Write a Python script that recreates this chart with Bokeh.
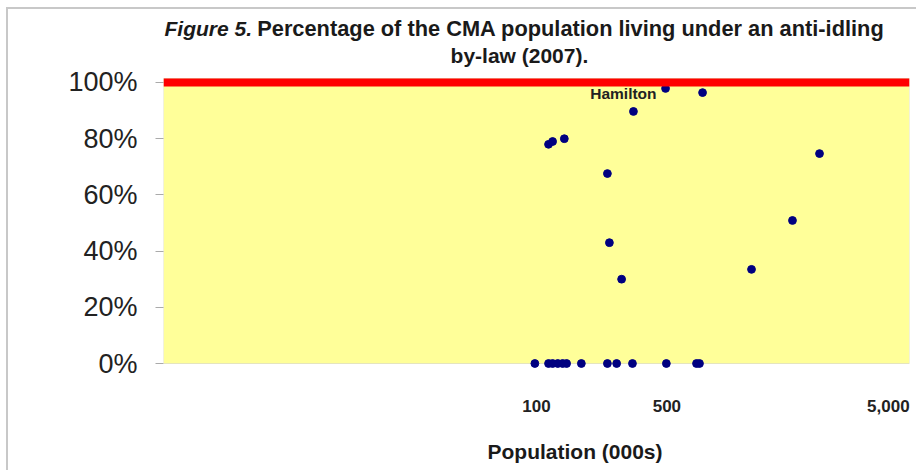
from bokeh.plotting import figure
from bokeh.models import Label, Span, BoxAnnotation, FixedTicker, Range1d, Title
from bokeh.embed import file_html
from bokeh.resources import INLINE

# Population of each CMA (thousands) and share of it living under an anti-idling by-law
population = [98, 116, 122, 130, 138, 145, 174, 240, 269, 327, 497, 721, 748,
              116, 122, 141, 240, 246, 286, 331, 492, 777, 1422, 2358, 3292]
share = [0.0, 0.0, 0.0, 0.0, 0.0, 0.0, 0.0, 0.0, 0.0, 0.0, 0.0, 0.0, 0.0,
         0.78, 0.79, 0.80, 0.676, 0.43, 0.30, 0.897, 0.979, 0.964, 0.335, 0.509, 0.747]
label_city = "Hamilton"
label_pop = 492
label_share = 0.979

y_ticks = [0.0, 0.2, 0.4, 0.6, 0.8, 1.0]
y_tick_labels = ["0%", "20%", "40%", "60%", "80%", "100%"]
x_ticks = [100, 500, 7700]
x_tick_labels = ["100", "500", "5,000"]
full_coverage = 1.0

title_lead = "Figure 5."
title_rest = "Percentage of the CMA population living under an anti-idling"
title_line2 = "by-law (2007)."
x_title = "Population (000s)"

FONT = "Liberation Sans"

# x: log axis 1..10000 over 746 px; y: 0% at px 363, 100% at px 82 (frame spans px 0..370)
p = figure(width=916, height=470, x_axis_type="log",
           x_range=Range1d(1, 10000), y_range=Range1d(-0.0249, 1.2918),
           output_backend="svg", toolbar_location=None,
           min_border_left=163, min_border_right=7, min_border_top=0, min_border_bottom=100)
p.frame_width = 746
p.frame_height = 370
p.outline_line_color = None
p.grid.visible = False
p.background_fill_alpha = 0
p.border_fill_alpha = 0
# light grey chart border on the left and top, as in the reference
p.styles = {"background-color": "white",
            "box-shadow": "inset 6px 7px 0 0 white, inset 8px 9px 0 0 #c8c8c8"}

p.add_layout(BoxAnnotation(bottom=0, top=1.0142, fill_color="#FFFF99", fill_alpha=1.0,
                           line_color="#a8a8a0", line_width=1, level="underlay"))
p.add_layout(Span(location=full_coverage, dimension="width", line_color="#FF0000", line_width=8))

p.scatter(population, share, size=7.8, fill_color="#000080", line_color="#000080")

# axes
p.yaxis.ticker = FixedTicker(ticks=y_ticks)
p.yaxis.major_label_overrides = {t: l for t, l in zip(y_ticks, y_tick_labels)}
p.yaxis.axis_line_color = None
p.yaxis.major_tick_out = 8
p.yaxis.major_tick_in = 0
p.yaxis.major_tick_line_color = "#aaaaaa"
p.yaxis.minor_tick_line_color = None
p.yaxis.major_label_text_font = FONT
p.yaxis.major_label_text_font_size = "27px"
p.yaxis.major_label_text_color = "#222222"
p.yaxis.major_label_standoff = 18

p.xaxis.ticker = FixedTicker(ticks=x_ticks)
p.xaxis.major_label_overrides = {t: l for t, l in zip(x_ticks, x_tick_labels)}
p.xaxis.axis_line_color = None
p.xaxis.major_tick_line_color = None
p.xaxis.minor_tick_line_color = None
p.xaxis.major_label_text_font = FONT
p.xaxis.major_label_text_font_style = "bold"
p.xaxis.major_label_text_font_size = "17px"
p.xaxis.major_label_text_color = "#222222"
p.xaxis.major_label_standoff = 23

p.add_layout(Title(text=x_title, align="left", offset=324, standoff=46,
                   text_font=FONT, text_font_style="bold", text_font_size="21px",
                   text_color="#1a1a1a"), "below")

# title (inside the upper, white part of the frame)
p.add_layout(Label(x=1.0124, y=1.1922, text=title_lead, text_font=FONT,
                   text_font_style="bold italic", text_font_size="21px",
                   text_align="left", text_baseline="middle", text_color="#1a1a1a"))
p.add_layout(Label(x=7345, y=1.1922, text=title_rest, text_font=FONT,
                   text_font_style="bold", text_font_size="21.8px",
                   text_align="right", text_baseline="middle", text_color="#1a1a1a"))
p.add_layout(Label(x=81, y=1.0961, text=title_line2, text_font=FONT,
                   text_font_style="bold", text_font_size="21px",
                   text_align="center", text_baseline="middle", text_color="#1a1a1a"))

p.add_layout(Label(x=label_pop, y=label_share, x_offset=-9, y_offset=-5,
                   text=label_city, text_font=FONT, text_font_style="bold",
                   text_font_size="15.5px", text_align="right", text_baseline="middle",
                   text_color="#222222"))

open("out.html", "w").write(file_html(p, INLINE))
